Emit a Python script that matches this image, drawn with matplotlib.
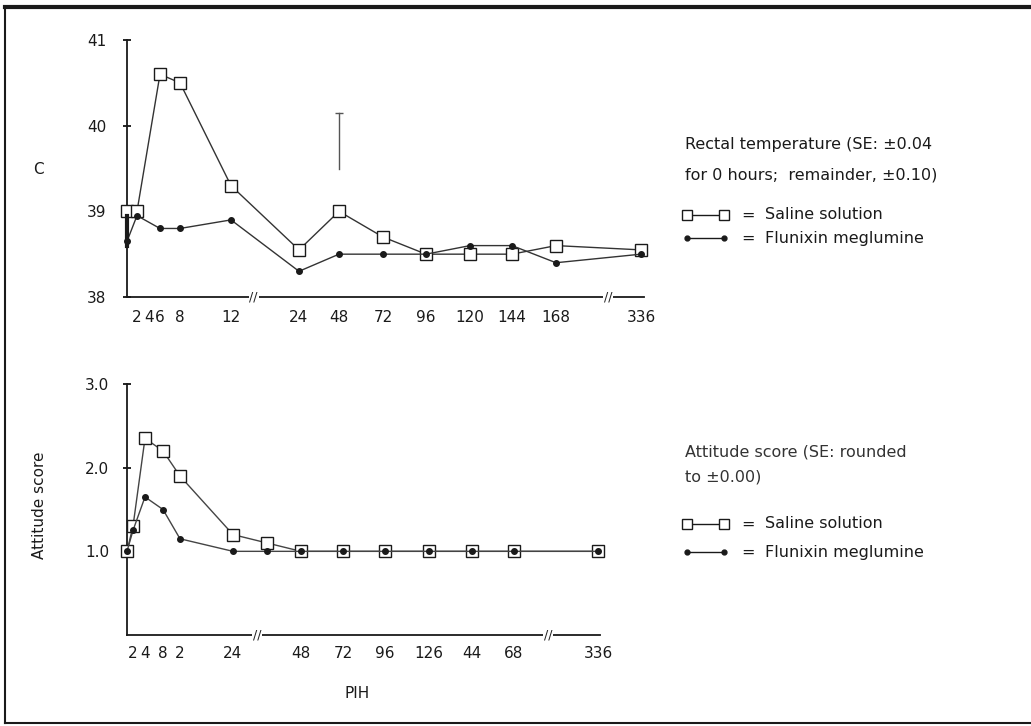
import numpy as np
import matplotlib
matplotlib.use('Agg')
import matplotlib.pyplot as plt
import matplotlib.transforms as mtransforms
from matplotlib.lines import Line2D

# 1. DATA
temp_hours = [0, 2, 6, 8, 12, 24, 48, 72, 96, 120, 144, 168, 336]
temp_saline = [39.0, 39.0, 40.6, 40.5, 39.3, 38.55, 39.0, 38.7, 38.5, 38.5, 38.5, 38.6, 38.55]
temp_flunixin = [38.65, 38.95, 38.8, 38.8, 38.9, 38.3, 38.5, 38.5, 38.5, 38.6, 38.6, 38.4, 38.5]
temp_ticks = [2, 4, 6, 8, 12, 24, 48, 72, 96, 120, 144, 168, 336]
temp_ticklabels = ['2', '4', '6', '8', '12', '24', '48', '72', '96', '120', '144', '168', '336']

att_hours = [0, 2, 4, 8, 12, 24, 36, 48, 72, 96, 120, 144, 168, 336]
att_saline = [1.0, 1.3, 2.35, 2.2, 1.9, 1.2, 1.1, 1.0, 1.0, 1.0, 1.0, 1.0, 1.0, 1.0]
att_flunixin = [1.0, 1.25, 1.65, 1.5, 1.15, 1.0, 1.0, 1.0, 1.0, 1.0, 1.0, 1.0, 1.0, 1.0]
att_ticks = [2, 4, 8, 12, 24, 48, 72, 96, 120, 144, 168, 336]
att_ticklabels = ['2', '4', '8', '2', '24', '48', '72', '96', '126', '44', '68', '336']

# 2. LAYOUT HELPERS (pixel positions of the hand drawn broken axes)
W, H = 1031, 726
def fx(px):
    return px / W
def fy(py):
    return 1 - py / H

def broken_scale(ax, knot_hours, knot_px, px_left, px_right):
    # piecewise linear hour axis, like the hand drawn one
    h = np.array(knot_hours, float)
    f = (np.array(knot_px, float) - px_left) / (px_right - px_left)
    s0 = (f[1] - f[0]) / (h[1] - h[0])
    s1 = (f[-1] - f[-2]) / (h[-1] - h[-2])
    h_ext = np.concatenate([[h[0] - 1e4], h, [h[-1] + 1e4]])
    f_ext = np.concatenate([[f[0] - 1e4 * s0], f, [f[-1] + 1e4 * s1]])
    fwd = lambda x: np.interp(x, h_ext, f_ext)
    inv = lambda y: np.interp(y, f_ext, h_ext)
    ax.set_xscale('function', functions=(fwd, inv))
    ax.set_xlim(float(inv(0.0)), float(inv(1.0)))

def axis_break(ax, hour):
    tr = mtransforms.blended_transform_factory(ax.transData, ax.transAxes)
    ax.text(hour, 0, '//', transform=tr, ha='center', va='center', fontsize=9,
            color='#222222', bbox=dict(fc='white', ec='none', pad=0.5), clip_on=False)

plt.rcParams['font.family'] = ['DejaVu Sans']
ink = '#1a1a1a'

fig = plt.figure(figsize=(W / 100, H / 100), dpi=100)

# 3. RECTAL TEMPERATURE PANEL
ax1 = fig.add_axes([fx(127), fy(297), fx(644) - fx(127), fy(40) - fy(297)])
broken_scale(ax1, [0, 2, 4, 6, 8, 12, 24, 48, 72, 96, 120, 144, 168, 336],
             [127, 137, 149, 160, 180, 231, 299, 339, 383, 426, 470, 512, 556, 641], 127, 644)
ax1.set_ylim(38, 41)
ax1.plot(temp_hours, temp_saline, color='#333333', lw=1.0, marker='s', ms=9,
         mfc='white', mec=ink, mew=1.0, clip_on=False, zorder=3)
ax1.plot(temp_hours, temp_flunixin, color='#333333', lw=1.0, marker='o', ms=4,
         mfc=ink, mec=ink, clip_on=False, zorder=3)
# SE bars drawn on the figure
ax1.plot([0, 0], [38.6, 38.95], color=ink, lw=3, clip_on=False, zorder=4)
ax1.plot([48, 48], [39.5, 40.15], color='#555555', lw=1.0, marker='_', ms=6, markevery=[1])
ax1.set_xticks(temp_ticks)
ax1.set_xticklabels(temp_ticklabels)
ax1.set_yticks([38, 39, 40, 41])
ax1.set_yticklabels(['38', '39', '40', '41'])
ax1.tick_params(axis='x', length=0, pad=9, labelsize=11, labelcolor=ink)
ax1.tick_params(axis='y', direction='inout', length=6, width=1.2, pad=12, labelsize=11, labelcolor=ink)
axis_break(ax1, 16)
axis_break(ax1, 271)
fig.text(fx(38), fy(170), 'C', fontsize=11, color=ink, ha='center', va='center')

# 4. ATTITUDE SCORE PANEL
ax2 = fig.add_axes([fx(127), fy(635), fx(600) - fx(127), fy(384) - fy(635)])
broken_scale(ax2, [0, 2, 4, 8, 12, 24, 48, 72, 96, 120, 144, 168, 336],
             [127, 133, 145, 163, 180, 233, 301, 343, 385, 429, 472, 514, 598], 127, 600)
ax2.set_ylim(0, 3)
ax2.plot(att_hours, att_saline, color='#444444', lw=1.0, marker='s', ms=8,
         mfc='white', mec=ink, mew=1.0, clip_on=False, zorder=3)
ax2.plot(att_hours, att_flunixin, color='#444444', lw=1.0, marker='o', ms=4,
         mfc=ink, mec=ink, clip_on=False, zorder=3)
ax2.set_xticks(att_ticks)
ax2.set_xticklabels(att_ticklabels)
ax2.set_yticks([1, 2, 3])
ax2.set_yticklabels(['1.0', '2.0', '3.0'])
ax2.tick_params(axis='x', length=0, pad=8, labelsize=11, labelcolor=ink)
ax2.tick_params(axis='y', direction='inout', length=6, width=1.2, pad=10, labelsize=11, labelcolor=ink)
axis_break(ax2, 32.5)
axis_break(ax2, 236)
fig.text(fx(39), fy(505), 'Attitude score', rotation=90, fontsize=11, color=ink,
         ha='center', va='center')
fig.text(fx(357), fy(693), 'PIH', fontsize=11, color=ink, ha='center', va='center')

for ax in (ax1, ax2):
    for side in ('top', 'right'):
        ax.spines[side].set_visible(False)
    for side in ('left', 'bottom'):
        ax.spines[side].set_linewidth(1.3)
        ax.spines[side].set_color(ink)

# 5. LEGEND TEXT BLOCKS (hand lettered keys)
def key_entry(y, marker, ms, mfc, label, x0=687, x1=724):
    fig.add_artist(Line2D([fx(x0), fx(x1)], [fy(y), fy(y)], transform=fig.transFigure,
                          color=ink, lw=1.0, marker=marker, ms=ms, mfc=mfc, mec=ink))
    fig.text(fx(748), fy(y), '=', fontsize=11.5, color=ink, ha='center', va='center')
    fig.text(fx(765), fy(y), label, fontsize=11.5, color=ink, ha='left', va='center')

fig.text(fx(685), fy(145), 'Rectal temperature (SE: \u00b10.04', fontsize=11.5, color=ink, va='center')
fig.text(fx(685), fy(175), 'for 0 hours;  remainder, \u00b10.10)', fontsize=11.5, color=ink, va='center')
key_entry(215, 's', 7, 'white', 'Saline solution')
key_entry(238, 'o', 3.5, ink, 'Flunixin meglumine')

fig.text(fx(685), fy(452), 'Attitude score (SE: rounded', fontsize=11.5, color='#333333', va='center')
fig.text(fx(685), fy(477), 'to \u00b10.00)', fontsize=11.5, color='#333333', va='center')
key_entry(524, 's', 7, 'white', 'Saline solution')
key_entry(552, 'o', 3.5, ink, 'Flunixin meglumine')

# 6. SCAN BORDER
fig.add_artist(Line2D([fx(5), 1], [fy(7), fy(7)], transform=fig.transFigure, color=ink, lw=3))
fig.add_artist(Line2D([fx(5), fx(5)], [fy(7), fy(723)], transform=fig.transFigure, color=ink, lw=1.5))
fig.add_artist(Line2D([fx(5), 1], [fy(723), fy(723)], transform=fig.transFigure, color=ink, lw=1.5))

fig.savefig('out.png', dpi=100)
